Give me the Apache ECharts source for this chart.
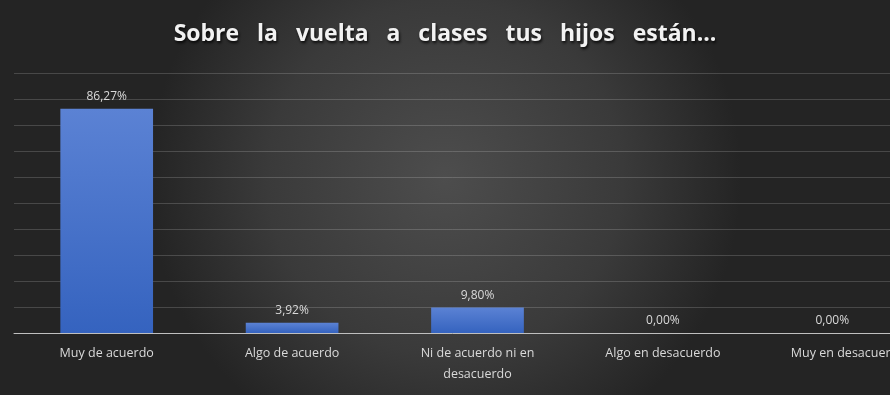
<!DOCTYPE html>
<html><head><meta charset="utf-8">
<script src="https://cdn.jsdelivr.net/npm/echarts@6/dist/echarts.min.js"></script>
<style>html,body{margin:0;padding:0;background:#333}#c{width:890px;height:395px}</style>
</head><body><div id="c"></div>
<script>
const categories = ['Muy de acuerdo','Algo de acuerdo','Ni de acuerdo ni en\ndesacuerdo','Algo en desacuerdo','Muy en desacuerdo'];
const values = [86.27, 3.92, 9.80, 0.00, 0.00];
const titleText = 'Sobre   la   vuelta   a   clases   tus   hijos   están...';

const chart = echarts.init(document.getElementById('c'), null, {renderer:'canvas'});
chart.setOption({
  backgroundColor: {type:'radial', x:0.5, y:0.45, r:0.75, colorStops:[
    {offset:0, color:'#4d4d4d'},{offset:0.6, color:'#3a3a3a'},{offset:1, color:'#242424'}]},
  title: {
    text: titleText, left: 'center', top: 18,
    textStyle: {color:'#f2f2f2', fontFamily:'Open Sans', fontWeight:'bold', fontSize:23,
      textShadowColor:'rgba(0,0,0,0.85)', textShadowBlur:3, textShadowOffsetX:1, textShadowOffsetY:2}
  },
  grid: {left:14, top:73, width:927, height:260, containLabel:false, outerBoundsMode:'none'},
  xAxis: {
    type:'category', data: categories,
    axisLine:{lineStyle:{color:'#bfbfbf', width:1}},
    axisTick:{show:false},
    axisLabel:{color:'#d9d9d9', fontFamily:'Open Sans', fontSize:12.5, margin:10, lineHeight:21, interval:0}
  },
  yAxis: {
    type:'value', min:0, max:100, interval:10,
    axisLabel:{show:false}, axisLine:{show:false}, axisTick:{show:false},
    splitLine:{lineStyle:{color:'rgba(255,255,255,0.17)', width:1}}
  },
  series: [{
    type:'bar', barWidth:'50%',
    data: values.map((v,i)=> i===4 ? {value:v, label:{offset:[-16,0]}} : v),
    itemStyle:{
      color:{type:'linear', x:0,y:0,x2:0,y2:1, colorStops:[{offset:0,color:'#5b82d4'},{offset:1,color:'#3563bf'}]}
    },
    label:{show:true, position:'top', distance:6, color:'#d9d9d9', fontFamily:'Open Sans', fontSize:12,
      formatter: p => p.value.toFixed(2).replace('.', ',') + '%'}
  }]
});
</script></body></html>
